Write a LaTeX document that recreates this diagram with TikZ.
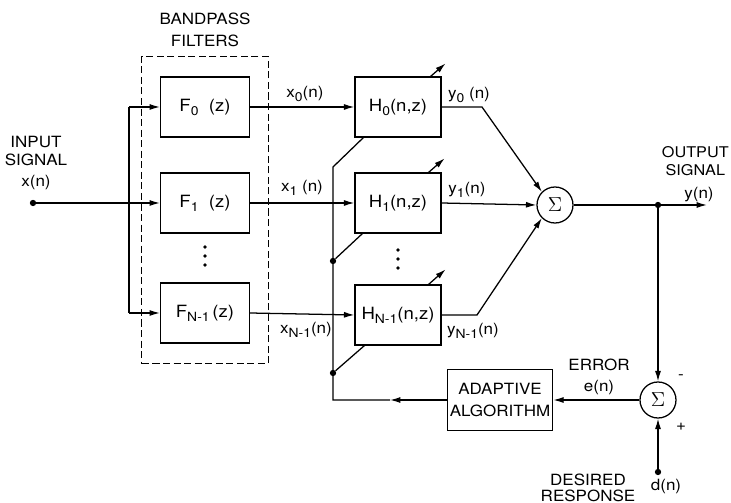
\documentclass[tikz,border=0pt]{standalone}
\usepackage{fontspec}
\setmainfont[FakeStretch=1.1]{TeX Gyre Heros}
\usepackage{tikz}
\usetikzlibrary{arrows.meta, positioning, calc, fit}
\tikzset{
  block/.style={rectangle, draw, line width=0.9pt, minimum width=2.22cm,
    minimum height=1.5cm, inner sep=0pt, font=\fontsize{12}{14}\selectfont},
  hblock/.style={block, minimum width=2.15cm},
  algblock/.style={block, minimum width=2.63cm, minimum height=1.53cm,
    align=center, font=\fontsize{11}{16}\selectfont},
  sumjunc/.style={circle, draw, line width=0.9pt, minimum size=0.9cm,
    inner sep=0pt, font=\Large},
  jdot/.style={circle, fill, inner sep=0pt, minimum size=4.5pt},
  lbl/.style={font=\fontsize{11}{13}\selectfont, align=center, inner sep=0pt},
  arrow/.style={-{Latex[length=2.6mm,width=1.5mm]}, line width=0.9pt},
  line/.style={line width=0.9pt}
}
\newcommand{\lowsub}[1]{\raisebox{-0.45ex}{\small #1}}

\begin{document}
\begin{tikzpicture}[x=0.025cm, y=-0.025cm]
  \useasboundingbox (0,0) rectangle (731,503);

  % filter bank
  \node[block] (f0) at (205,107) {F\lowsub{0}\ \ (z)};
  \node[block] (f1) at (205,203) {F\lowsub{1}\ \ (z)};
  \node[block] (fn) at (205,313) {F\lowsub{N-1}\,(z)};
  \node[draw, dashed, dash pattern=on 5pt off 2.5pt, line width=0.7pt,
    fit=(f0)(fn), inner xsep=0.45cm, inner ysep=0.5cm] (bank) {};
  \node[lbl, font=\fontsize{11}{15.6}\selectfont, above=0.22cm of bank] (banklbl) {BANDPASS\\FILTERS};
  \foreach \yy in {247,256,265} \fill (205,\yy) circle (1.3pt);

  % adaptive filters
  \node[hblock] (h0) at (398,107) {H\lowsub{0}(n,z)};
  \node[hblock] (h1) at (398,203) {H\lowsub{1}(n,z)};
  \node[hblock] (hn) at (398,315) {H\lowsub{N-1}(n,z)};
  \foreach \yy in {250,259,268} \fill (398,\yy) circle (1.3pt);

  \node[sumjunc] (sum) at (555,205) {$\Sigma$};
  \node[sumjunc] (sum2) at (658,400) {$\Sigma$};
  \node[algblock] (alg) at (500,400) {ADAPTIVE\\ALGORITHM};

  % input side
  \node[jdot] (xin) at (33,203) {};
  \node[lbl] (inlbl) at (36,151) {INPUT\\SIGNAL};
  \node[lbl] (xlbl) at (36,183) {x(n)};
  \coordinate (br0) at (129,107);
  \coordinate (brn) at (129,313);
  \draw[arrow] (xin) -- (f1.west);
  \draw[arrow] (br0) -- (f0.west);
  \draw[line] (br0) -- (brn);
  \draw[arrow] (brn) -- (fn.west);

  % subband signals
  \draw[arrow] (f0.east) -- (h0.west);
  \draw[arrow] (f1.east) -- (h1.west);
  \draw[arrow] (fn.east) -- (hn.west);
  \node[lbl] (x0lbl) at (305,94) {x\lowsub{0}(n)};
  \node[lbl] (x1lbl) at (302,188) {x\lowsub{1} (n)};
  \node[lbl] (xnlbl) at (306,330) {x\lowsub{N-1}(n)};

  % outputs to summer
  \draw[arrow] (h0.east) -- (482,107) -- (sum.135);
  \draw[arrow] (h1.east) -- (sum.west);
  \draw[arrow] (hn.east) -- (477,315) -- (sum.225);
  \node[lbl] (y0lbl) at (469,95) {y\lowsub{0} (n)};
  \node[lbl] (y1lbl) at (467,190) {y\lowsub{1}(n)};
  \node[lbl] (ynlbl) at (473,331) {y\lowsub{N-1}(n)};

  % weight adjustment
  \draw[arrow] ($(h0.north east)+(-11,0)$) -- ++(15,-13);
  \draw[arrow] ($(h1.north east)+(-13,0)$) -- ++(16,-14);
  \draw[arrow] ($(hn.north east)+(-13,0)$) -- ++(17,-15);

  % output and error
  \node[jdot] (odot) at (658,205) {};
  \coordinate (yout) at (707,205);
  \draw[arrow] (sum.east) -- (yout);
  \draw[arrow] (odot) -- (sum2.north);
  \node[lbl, font=\fontsize{10.5}{13}\selectfont, anchor=east] (outlbl) at (729,161) {OUTPUT\\SIGNAL};
  \node[lbl] (ylbl) at (699,195) {y(n)};
  \node[jdot] (ddot) at (658,472) {};
  \draw[arrow] (ddot) -- (sum2.south);
  \node[lbl] (dlbl) at (666,487) {d(n)};
  \node[lbl, font=\fontsize{11}{11}\selectfont, anchor=south] (deslbl) at (588,502) {DESIRED\\RESPONSE};
  \node[lbl] (minus) at (681,377) {-};
  \node[lbl] (plus) at (681,427) {+};
  \draw[arrow] (sum2.west) -- (alg.east);
  \node[lbl, font=\fontsize{11}{15}\selectfont] (errlbl) at (599,377) {ERROR\\e(n)};

  % feedback to the weights
  \coordinate (fbmid) at (390,400);
  \coordinate (fbtop) at (333,167);
  \node[jdot] (tap1) at (333,261) {};
  \node[jdot] (tapn) at (333,373) {};
  \draw[arrow] (alg.west) -- (fbmid);
  \draw[line] (fbmid) -- (fbmid -| fbtop) -- (fbtop) -- ($(h0.south west)+(9,0)$);
  \draw[line] (tap1) -- ($(h1.south west)+(8,0)$);
  \draw[line] (tapn) -- ($(hn.south west)+(10,0)$);
\end{tikzpicture}
\end{document}
